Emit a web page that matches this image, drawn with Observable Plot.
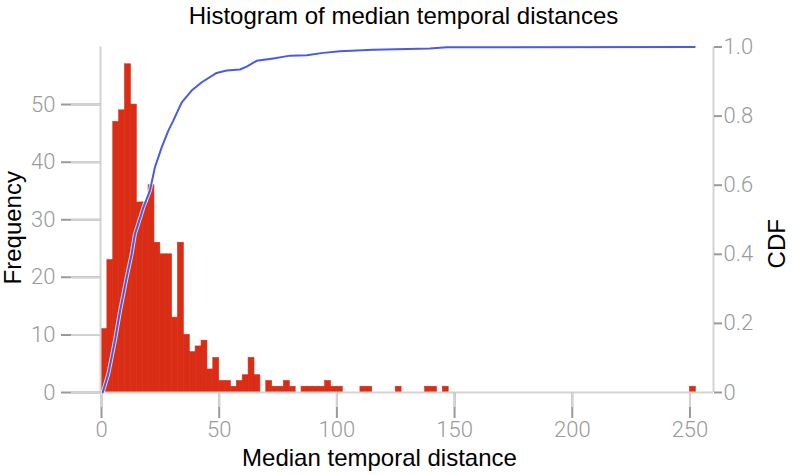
<!DOCTYPE html>
<html><head><meta charset="utf-8">
<script src="https://cdn.jsdelivr.net/npm/d3@7"></script>
<script src="https://cdn.jsdelivr.net/npm/@observablehq/plot@0.6"></script>
<style>body{margin:0;background:#fff}</style>
</head><body><div id="chart"></div>
<script>
// ---- data ----
const binWidth = 2.5;
const counts = [11,23,47,49,57,50,33,33,36,26,24,24,13,26,10,7,8,9,4,6,
  2,2,1,2,3,6,3,0,2,1,1,2,1,0,1,1,1,1,2,1,
  1,0,0,0,1,1,0,0,0,0,1,0,0,0,0,1,1,0,1,0,
  0,0,0,0,0,0,0,0,0,0,0,0,0,0,0,0,0,0,0,0,
  0,0,0,0,0,0,0,0,0,0,0,0,0,0,0,0,0,0,0,0,1];
const cdfX = [0.5,2.9,5.7,7.9,10.7,12.8,14.2,15.6,17.8,20.6,22.7,25.6,28.4,30.5,34.1,38.3,42.6,48.9,53.2,58.8,61.7,65.9,73.0,80.1,87.2,94.2,101.3,115.5,139.5,146.6,252];
const cdfY = [0,0.054,0.150,0.237,0.334,0.401,0.459,0.488,0.536,0.585,0.652,0.710,0.758,0.787,0.840,0.874,0.898,0.925,0.932,0.935,0.943,0.960,0.967,0.975,0.976,0.983,0.988,0.992,0.996,0.999,1.0];
const xTicks = [0,50,100,150,200,250];
const yTicks = [0,10,20,30,40,50];
const cdfTicks = [0,0.2,0.4,0.6,0.8,1.0];
const titleText = "Histogram of median temporal distances";
const xLabel = "Median temporal distance";
const yLabel = "Frequency";
const y2Label = "CDF";

// ---- derived tables ----
const FREQ_AT_CDF1 = 60; // left-axis value aligned with CDF = 1
const bars = counts.map((c,i)=>({x1:i*binWidth, x2:(i+1)*binWidth, count:c})).filter(d=>d.count>0);
const cdf = cdfX.map((x,i)=>({x, p:cdfY[i]}));

const light = "#d4d4d4", dark = "#9a9a9a", red = "#d92d15";
const tickFont = "Roboto, 'Liberation Sans', sans-serif";
const labFont = "'Liberation Sans', Arial, sans-serif";

const chart = Plot.plot({
  width: 793, height: 475,
  marginLeft: 101, marginRight: 80, marginTop: 46.5, marginBottom: 83,
  x: {domain: [0, 260]},
  y: {domain: [0, FREQ_AT_CDF1]},
  style: {background: "#fff", fontFamily: tickFont},
  marks: [
    Plot.rectY(bars, {x1: "x1", x2: "x2", y: "count", fill: red, stroke: red, strokeWidth: 0.6, inset: 0}),
    // frame lines
    Plot.ruleY([0], {stroke: light, strokeWidth: 2}),
    Plot.ruleX([0], {stroke: light, strokeWidth: 2, dx: -1}),
    Plot.ruleX([260], {stroke: light, strokeWidth: 2}),
    // left axis: dark outer tick + light inner connector
    Plot.axisY({anchor: "left", ticks: yTicks, tickSize: 40, tickPadding: 6, stroke: dark, strokeWidth: 2,
      fill: dark, fontSize: 22, fontWeight: 300, label: null}),
    Plot.axisY({anchor: "left", ticks: yTicks, tickSize: 30, stroke: light, strokeWidth: 2, text: null, label: null}),
    // bottom axis
    Plot.axisX({anchor: "bottom", ticks: xTicks, tickSize: 26, tickPadding: 3, stroke: dark, strokeWidth: 2,
      fill: dark, fontSize: 22, fontWeight: 300, label: null}),
    Plot.axisX({anchor: "bottom", ticks: xTicks, tickSize: 15, stroke: light, strokeWidth: 2, text: null, label: null}),
    // right CDF axis
    Plot.axisY({anchor: "right", ticks: cdfTicks.map(t => t*FREQ_AT_CDF1), tickSize: 8, tickPadding: 2,
      stroke: dark, strokeWidth: 2, fill: dark, fontSize: 22, fontWeight: 300, label: null,
      tickFormat: d => { const v = d/FREQ_AT_CDF1; return v === 0 ? "0" : v.toFixed(1); }}),
    // CDF line with light halo
    Plot.line(cdf, {x: "x", y: d => d.p*FREQ_AT_CDF1, stroke: "#fff", strokeOpacity: 0.75, strokeWidth: 4}),
    Plot.line(cdf, {x: "x", y: d => d.p*FREQ_AT_CDF1, stroke: "#4a5ae6", strokeWidth: 2}),
    // texts
    Plot.text([titleText], {frameAnchor: "top", dy: -31, dx: -4, lineAnchor: "middle", textAnchor: "middle",
      fontSize: 24, fontFamily: labFont, fill: "#000"}),
    Plot.text([xLabel], {frameAnchor: "bottom", dy: 66, dx: -28, lineAnchor: "middle", textAnchor: "middle",
      fontSize: 24, fontFamily: labFont, fill: "#000"}),
    Plot.text([yLabel], {frameAnchor: "left", dx: -88, dy: 8, rotate: -90, lineAnchor: "middle", textAnchor: "middle",
      fontSize: 24, fontFamily: labFont, fill: "#000"}),
    Plot.text([y2Label], {frameAnchor: "right", dx: 64, dy: 24, rotate: -90, lineAnchor: "middle", textAnchor: "middle",
      fontSize: 24, fontFamily: labFont, fill: "#000"})
  ]
});
document.getElementById("chart").appendChild(chart);
</script>
</body></html>
